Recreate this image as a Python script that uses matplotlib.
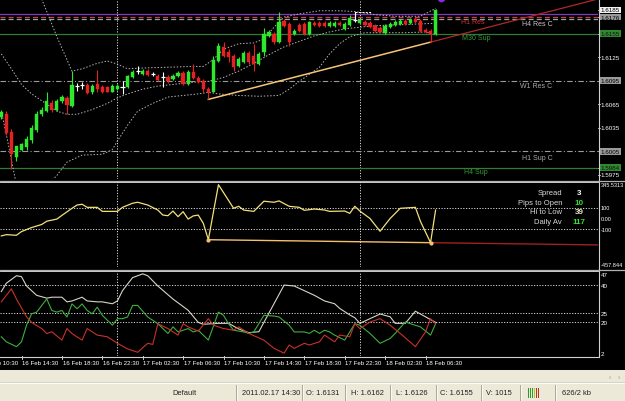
import numpy as np
import matplotlib
matplotlib.use("Agg")
import matplotlib.pyplot as plt
from matplotlib.patches import Rectangle
from matplotlib.lines import Line2D

plt.rcParams['font.family'] = ['Liberation Sans', 'DejaVu Sans']

# ---------------- data ----------------
bars = list(range(-4, 83))
opens = [1.6048, 1.6053, 1.6030, 1.5997, 1.6007, 1.6010, 1.6019, 1.6032, 1.6052, 1.6056,
         1.6067, 1.6058, 1.6069, 1.6073, 1.6062, 1.6088, 1.6089, 1.6089, 1.6080, 1.6090,
         1.6087, 1.6087, 1.6081, 1.6084, 1.6087, 1.6087, 1.6099, 1.6107, 1.6103, 1.6107,
         1.6103, 1.6101, 1.6099, 1.6099, 1.6097, 1.6101, 1.6105, 1.6090, 1.6106, 1.6098,
         1.6094, 1.6084, 1.6081, 1.6120, 1.6138, 1.6131, 1.6126, 1.6113, 1.6119, 1.6130,
         1.6126, 1.6116, 1.6131, 1.6152, 1.6154, 1.6144, 1.6171, 1.6167, 1.6154, 1.6166,
         1.6167, 1.6154, 1.6169, 1.6169, 1.6169, 1.6165, 1.6165, 1.6169, 1.6161, 1.6166,
         1.6172, 1.6169, 1.6170, 1.6169, 1.6165, 1.6162, 1.6156, 1.6163, 1.6166, 1.6167,
         1.6171, 1.6169, 1.6174, 1.6171, 1.6160, 1.6158, 1.6154]
highs = [1.6057, 1.6056, 1.6033, 1.6012, 1.6016, 1.6024, 1.6038, 1.6056, 1.6061, 1.6080,
         1.6070, 1.6071, 1.6076, 1.6075, 1.6107, 1.6092, 1.6093, 1.6092, 1.6090, 1.6108,
         1.6089, 1.6088, 1.6090, 1.6090, 1.6094, 1.6102, 1.6108, 1.6113, 1.6110, 1.6110,
         1.6106, 1.6103, 1.6106, 1.6102, 1.6103, 1.6107, 1.6107, 1.6108, 1.6116, 1.6101,
         1.6097, 1.6087, 1.6126, 1.6143, 1.6144, 1.6135, 1.6129, 1.6125, 1.6133, 1.6133,
         1.6142, 1.6131, 1.6162, 1.6160, 1.6157, 1.6183, 1.6174, 1.6170, 1.6161, 1.6169,
         1.6170, 1.6171, 1.6171, 1.6171, 1.6171, 1.6171, 1.6171, 1.6171, 1.6170, 1.6178,
         1.6183, 1.6174, 1.6172, 1.6171, 1.6167, 1.6165, 1.6167, 1.6170, 1.6172, 1.6174,
         1.6174, 1.6175, 1.6176, 1.6174, 1.6162, 1.6161, 1.6186]
lows = [1.6046, 1.6025, 1.5982, 1.5992, 1.6005, 1.6007, 1.6016, 1.6029, 1.6050, 1.6055,
        1.6055, 1.6056, 1.6066, 1.6053, 1.6061, 1.6082, 1.6084, 1.6078, 1.6078, 1.6081,
        1.6079, 1.6080, 1.6080, 1.6083, 1.6078, 1.6085, 1.6098, 1.6103, 1.6102, 1.6101,
        1.6101, 1.6094, 1.6087, 1.6092, 1.6096, 1.6099, 1.6089, 1.6089, 1.6097, 1.6092,
        1.6080, 1.6071, 1.6080, 1.6119, 1.6125, 1.6119, 1.6107, 1.6112, 1.6117, 1.6116,
        1.6107, 1.6115, 1.6126, 1.6151, 1.6142, 1.6143, 1.6163, 1.6139, 1.6153, 1.6157,
        1.6153, 1.6153, 1.6165, 1.6163, 1.6163, 1.6163, 1.6163, 1.6165, 1.6160, 1.6165,
        1.6170, 1.6167, 1.6165, 1.6162, 1.6157, 1.6156, 1.6154, 1.6162, 1.6165, 1.6166,
        1.6166, 1.6167, 1.6169, 1.6157, 1.6156, 1.6144, 1.6153]
closes = [1.6055, 1.6028, 1.6001, 1.6011, 1.6014, 1.6021, 1.6035, 1.6053, 1.6057, 1.6069,
          1.6057, 1.6069, 1.6074, 1.6064, 1.6089, 1.6088, 1.6089, 1.6079, 1.6088, 1.6084,
          1.6080, 1.6081, 1.6088, 1.6088, 1.6087, 1.6101, 1.6106, 1.6107, 1.6107, 1.6102,
          1.6103, 1.6096, 1.6099, 1.6094, 1.6101, 1.6105, 1.6090, 1.6106, 1.6098, 1.6093,
          1.6084, 1.6080, 1.6121, 1.6139, 1.6126, 1.6125, 1.6112, 1.6122, 1.6130, 1.6119,
          1.6116, 1.6129, 1.6155, 1.6157, 1.6144, 1.6170, 1.6165, 1.6144, 1.6158, 1.6158,
          1.6154, 1.6170, 1.6166, 1.6165, 1.6165, 1.6169, 1.6169, 1.6166, 1.6167, 1.6175,
          1.6172, 1.6172, 1.6166, 1.6163, 1.6158, 1.6157, 1.6165, 1.6167, 1.6170, 1.6171,
          1.6167, 1.6172, 1.6170, 1.6158, 1.6157, 1.6154, 1.6185]

bb_upper_bars = [-4, -2, 0, 2, 4, 7, 10, 12, 15, 17, 19, 21, 24, 29, 34, 36, 38, 40, 43,
                 46, 48, 50, 52, 55, 59, 63, 66, 70, 74, 79, 82]
bb_upper = [1.6204, 1.6250, 1.6257, 1.6231, 1.6199, 1.6151, 1.6107, 1.6110, 1.6117, 1.6120,
            1.6116, 1.6110, 1.6111, 1.6112, 1.6113, 1.6113, 1.6122, 1.6135, 1.6142, 1.6143,
            1.6148, 1.6163, 1.6176, 1.6180, 1.6184, 1.6184, 1.6183, 1.6179, 1.6177, 1.6177,
            1.6187]
bb_mid_bars = [-4, -2, 0, 2, 5, 7, 9, 11, 14, 17, 19, 21, 24, 27, 30, 34, 37, 40, 43, 46,
               49, 52, 55, 58, 61, 64, 67, 70, 74, 78, 82]
bb_mid = [1.6129, 1.6110, 1.6090, 1.6078, 1.6065, 1.6056, 1.6052, 1.6052, 1.6058, 1.6066,
          1.6073, 1.6078, 1.6084, 1.6088, 1.6090, 1.6093, 1.6094, 1.6099, 1.6107, 1.6117,
          1.6128, 1.6138, 1.6145, 1.6152, 1.6157, 1.6161, 1.6163, 1.6165, 1.6166, 1.6167,
          1.6168]
bb_lower_bars = [-4, -3, -2, -1, 2, 5, 7, 9, 12, 16, 18, 19, 21, 23, 26, 29, 32, 35, 37,
                 39, 43, 47, 51, 53, 55, 57, 59, 61, 63, 65, 68, 72, 76, 80, 82]
bb_lower = [1.6056, 1.6026, 1.5994, 1.5962, 1.5943, 1.5961, 1.5974, 1.5991, 1.6000, 1.6001,
            1.6007, 1.6018, 1.6038, 1.6056, 1.6066, 1.6074, 1.6076, 1.6078, 1.6080, 1.6078,
            1.6076, 1.6075, 1.6076, 1.6084, 1.6094, 1.6103, 1.6112, 1.6129, 1.6142, 1.6151,
            1.6156, 1.6156, 1.6156, 1.6157, 1.6154]

trend_bars = [37, 81]
trend_prices = [1.6071, 1.6144]

bracket_bars = [66, 69.5]
bracket_prices = [1.6183, 1.6175]

level_prices = [1.6180, 1.6176, 1.6173, 1.6155, 1.6095, 1.6005, 1.5984]
level_names = ["", "H1 Res", "H4 Res C", "M30 Sup", "W1 Res C", "H1 Sup C", "H4 Sup"]

price_axis_values = [1.6185, 1.6176, 1.6155, 1.6125, 1.6095, 1.6065, 1.6035, 1.6005, 1.5984, 1.5975]

cci_bars = [-4, -3, -1, 0, 2, 4, 5, 7, 8, 10, 11, 12, 13, 15, 16, 19, 20, 22, 23, 25, 27, 28,
            29, 30, 31, 32, 33, 34, 35, 36, 37, 39, 42, 43, 44, 46, 48, 50, 51, 53, 55, 56,
            58, 60, 61, 64, 65, 66, 67, 69, 71, 73, 75, 78, 79, 81, 82]
cci_values = [-164, -152, -158, -123, -85, -56, -25, -5, 30, 97, 128, 135, 106, 106, 68, 68,
              106, 145, 154, 128, 80, 33, 27, 71, 18, 65, -5, 25, 33, -45, -200, 320, 97, 116,
              80, 68, 164, 154, 167, 116, 106, 78, 90, 81, 68, 71, 49, 116, 71, 1, -120, 1,
              97, 106, -27, -228, 80]
cci_trend_bars = [37, 81]
cci_trend_values = [-200, -228]
cci_levels = [100, -100]
cci_axis_labels = ["345.5313", "100", "0.00", "-100", "-457.844"]
cci_axis_values = [345.5313, 100, 0, -100, -457.844]

info_labels = ["Spread", "Pips to Open", "Hi to Low", "Daily Av"]
info_values = ["3", "10", "39", "117"]

adx_bars = [-4, -3, -1, 0, 1, 3, 5, 6, 8, 9, 10, 12, 13, 15, 16, 18, 19, 20, 22, 24, 25, 27,
            30, 33, 35, 36, 39, 41, 43, 45, 47, 52, 54, 56, 58, 60, 62, 63, 65, 66, 67, 69,
            71, 73, 74, 76, 78, 80, 82]
adx_values = [36.5, 41, 45, 44.5, 39.5, 34.5, 33, 33.5, 33.5, 31, 31.5, 33.5, 31.5, 31, 31,
              30, 31.5, 37, 44, 46, 45, 39.5, 32.5, 26.5, 20, 19, 19.5, 19.5, 16.5, 14.5, 15,
              40, 39.5, 37, 34.5, 31.5, 30, 27.5, 24, 22.5, 19.5, 22, 24.5, 23, 19.5, 19.5,
              26, 23, 20]
minus_di_bars = [-4, -2, -1, 1, 2, 4, 5, 6, 8, 9, 10, 12, 13, 15, 17, 19, 21, 23, 25, 26, 27,
                 29, 31, 32, 33, 35, 37, 38, 40, 42, 43, 45, 48, 50, 52, 53, 54, 56, 57, 59,
                 60, 62, 63, 65, 66, 67, 69, 71, 73, 75, 78, 80, 81, 82]
minus_di = [31, 38, 32.5, 23, 20, 16.7, 14, 15, 10.5, 16.7, 14, 10.5, 16.7, 13.2, 12.3, 8.8,
            5.8, 4, 8.8, 8.2, 19.3, 16.7, 13.2, 19.3, 17.6, 15.3, 22, 18.5, 16.7, 15.8, 17.6,
            14.1, 10.5, 6.1, 3.5, 7.9, 6.1, 8.8, 7.9, 9.6, 13.2, 9.6, 13.2, 12.3, 19.3, 16.7,
            20.2, 22, 18.5, 14.1, 7, 14.9, 22, 19.3]
plus_di_bars = [-4, -3, -1, 0, 1, 2, 3, 5, 6, 7, 8, 9, 10, 11, 12, 13, 14, 15, 16, 18, 19,
                20, 21, 22, 23, 25, 27, 28, 29, 30, 31, 33, 34, 35, 37, 39, 40, 41, 42, 44,
                45, 46, 48, 50, 51, 53, 54, 56, 57, 58, 59, 60, 61, 62, 64, 66, 67, 69, 71,
                73, 74, 76, 77, 79, 81, 82]
plus_di = [12.3, 9.6, 7, 9.6, 18.5, 24.6, 25.5, 32.6, 26.4, 25.5, 26.4, 22.9, 29.9, 27.3,
           29.9, 26.4, 24.6, 28.2, 23.8, 18.5, 22, 22, 22.9, 29.1, 29.1, 22.9, 19.3, 16.7,
           14.1, 17.6, 14.9, 16.7, 14.9, 15.8, 10.5, 25.5, 23.8, 19.3, 15.8, 14.9, 14.1, 14.9,
           23.8, 23.4, 22.9, 18.5, 14.9, 14.9, 14.1, 15.8, 14.1, 15.8, 14.9, 13.2, 10.5, 19.3,
           18.5, 14.1, 8.8, 11.4, 14.1, 20.2, 19.3, 17.6, 13.2, 19.3]
adx_levels = [40, 25, 20]
adx_axis_values = [47, 40, 25, 20, 2]

day_separator_bars = [19, 67]
time_tick_bars = [-8, 0, 8, 16, 24, 32, 40, 48, 56, 64, 72, 80]
time_tick_labels = ["16 Feb 10:30", "16 Feb 14:30", "16 Feb 18:30", "16 Feb 22:30",
                    "17 Feb 02:30", "17 Feb 06:30", "17 Feb 10:30", "17 Feb 14:30",
                    "17 Feb 18:30", "17 Feb 22:30", "18 Feb 02:30", "18 Feb 06:30"]

status_fields = ["Default", "2011.02.17 14:30", "O: 1.6131", "H: 1.6162", "L: 1.6126",
                 "C: 1.6155", "V: 1015", "", "626/2 kb"]

# ---------------- layout helpers ----------------
W, H = 625, 402
fig = plt.figure(figsize=(W / 100, H / 100), dpi=100, facecolor="black")


def rect(x0, y0, x1, y1):
    return [x0 / W, 1 - y1 / H, (x1 - x0) / W, (y1 - y0) / H]


def fx(x):
    return x / W


def fy(y):
    return 1 - y / H


PX0, PPB = 21.5, 5.05          # pixel of bar 0, pixels per bar
XR = 598
xlim = ((0 - PX0) / PPB, (XR - PX0) / PPB)

GREEN = "#2ee82e"
RED = "#e52222"
GRID = "#d8d8d8"
AXCOL = "#c8c8c8"
FS = 4.5


def base_axes(r):
    ax = fig.add_axes(r)
    ax.set_facecolor("black")
    ax.set_xlim(*xlim)
    for s in ax.spines.values():
        s.set_visible(False)
    ax.set_xticks([])
    ax.set_yticks([])
    return ax


ax1 = base_axes(rect(0, 0, XR, 180))
ax1.set_ylim(1.59695, 1.61990)
ax2 = base_axes(rect(0, 183, XR, 268))
ax2.set_ylim(-457.844, 345.5313)
ax3 = base_axes(rect(0, 273, XR, 357))
ax3.set_ylim(2, 47)

# day separators
for ax in (ax1, ax2, ax3):
    for b in day_separator_bars:
        ax.axvline(b, color="#e0e0e0", lw=0.7, ls=(0, (1.2, 1.6)), zorder=1)

# ---------------- main panel ----------------
lvl_style = [
    dict(color="#7a3cc0", lw=0.9, ls="-"),
    dict(color="#c84040", lw=0.9, ls=(0, (4, 2.5))),
    dict(color="#a0a0a0", lw=0.9, ls=(0, (4, 2.5))),
    dict(color="#2f7d32", lw=0.9, ls="-"),
    dict(color="#9a9a9a", lw=0.8, ls=(0, (5, 2, 1, 2))),
    dict(color="#9a9a9a", lw=0.8, ls=(0, (5, 2, 1, 2))),
    dict(color="#2f7d32", lw=0.9, ls="-"),
]
for p, st in zip(level_prices, lvl_style):
    ax1.axhline(p, zorder=2, **st)

name_style = {
    "H1 Res": (473, 22, "#d03030"),
    "H4 Res C": (537, 24, "#c8c8c8"),
    "M30 Sup": (476, 39, "#3a9a3a"),
    "W1 Res C": (536, 87, "#a8a8a8"),
    "H1 Sup C": (537, 159, "#a8a8a8"),
    "H4 Sup": (476, 173, "#3a9a3a"),
}
for nm in level_names:
    if nm in name_style:
        x, y, c = name_style[nm]
        fig.text(fx(x), fy(y), nm, color=c, fontsize=5.0, ha="center", va="center")

# bollinger bands
for bx, by in ((bb_upper_bars, bb_upper), (bb_mid_bars, bb_mid), (bb_lower_bars, bb_lower)):
    ax1.plot(bx, by, color="#b4b4b4", lw=0.7, ls=(0, (1.5, 1.8)), zorder=3)

# trend line with ray extension
ax1.plot(trend_bars, trend_prices, color="#f5c477", lw=1.1, zorder=4)
slope = (trend_prices[1] - trend_prices[0]) / (trend_bars[1] - trend_bars[0])
ax1.plot([trend_bars[1], xlim[1]],
         [trend_prices[1], trend_prices[1] + slope * (xlim[1] - trend_bars[1])],
         color="#b02828", lw=0.9, zorder=4)

# small white bracket marker
ax1.plot([bracket_bars[0], bracket_bars[0]], bracket_prices, color="white", lw=0.8, zorder=7)
ax1.plot(bracket_bars, [bracket_prices[0], bracket_prices[0]], color="white", lw=0.7,
         ls=(0, (2, 1.5)), zorder=7)

# candles
for k, o, h, l, c in zip(bars, opens, highs, lows, closes):
    if c > o:
        col = GREEN
    elif c < o:
        col = RED
    else:
        col = "white"
    ax1.vlines(k, l, h, color=col, lw=0.8, zorder=5)
    if o == c:
        ax1.hlines(o, k - 0.4, k + 0.4, color="white", lw=0.9, zorder=6)
    else:
        ax1.add_patch(Rectangle((k - 0.32, min(o, c)), 0.64, abs(c - o),
                                facecolor=col, edgecolor=col, lw=0.3, zorder=6))

ax1.plot([83], [1.62005], marker="o", color="#8a2be2", ms=4.5, clip_on=True, zorder=7)

# price axis labels
box_style = {1.6185: ("#f0f0f0", "black"), 1.6176: ("#9a9a9a", "black"),
             1.6155: ("#2f8a2f", "#101010"), 1.6095: ("#9a9a9a", "black"),
             1.6005: ("#9a9a9a", "black"), 1.5984: ("#2f8a2f", "#101010")}
yt = ax1.get_yaxis_transform()
for p in price_axis_values:
    txt = f"{p:.4f}"
    if p in box_style:
        bg, fg = box_style[p]
        ax1.text(1.0045, p, txt, transform=yt, fontsize=FS, color=fg, ha="left", va="center",
                 clip_on=False, bbox=dict(boxstyle="square,pad=0.15", fc=bg, ec="none"))
    else:
        ax1.text(1.0045, p, txt, transform=yt, fontsize=FS, color="white", ha="left",
                 va="center", clip_on=False)
for p in price_axis_values:
    ax1.plot([1.0, 1.003], [p, p], transform=yt, color=AXCOL, lw=0.6, clip_on=False)

# ---------------- CCI panel ----------------
for lv in cci_levels:
    ax2.axhline(lv, color=GRID, lw=0.7, ls=(0, (1.2, 1.6)), zorder=1)
ax2.plot(cci_trend_bars, cci_trend_values, color="#f2c070", lw=1.0, zorder=3)
s2 = (cci_trend_values[1] - cci_trend_values[0]) / (cci_trend_bars[1] - cci_trend_bars[0])
ax2.plot([cci_trend_bars[1], xlim[1]],
         [cci_trend_values[1], cci_trend_values[1] + s2 * (xlim[1] - cci_trend_bars[1])],
         color="#a02020", lw=1.0, zorder=3)
ax2.plot(cci_bars, cci_values, color="#f2e07a", lw=0.9, zorder=4)
ax2.plot([cci_trend_bars[0], cci_trend_bars[1]], cci_trend_values, ls="none", marker="o",
         ms=2, color="#f2c070", zorder=5)

yt2 = ax2.get_yaxis_transform()
for lab, v in zip(cci_axis_labels, cci_axis_values):
    va = "top" if v == cci_axis_values[0] else ("bottom" if v == cci_axis_values[-1] else "center")
    ax2.text(1.0045, v, lab, transform=yt2, fontsize=4.0, color="white", ha="left",
             va=va, clip_on=False)

info_y = [194, 203.5, 213, 222.5]
val_col = ["white", "#33e033", "#e8e8c0", "#33e033"]
for lab, val, y, vc in zip(info_labels, info_values, info_y, val_col):
    fig.text(fx(562), fy(y), lab, color="#d8d8d8", fontsize=5.5, ha="right", va="center")
    fig.text(fx(579), fy(y), val, color=vc, fontsize=5.8, ha="center", va="center",
             fontweight="bold")

# ---------------- ADX panel ----------------
for lv in adx_levels:
    ax3.axhline(lv, color=GRID, lw=0.7, ls=(0, (1.2, 1.6)), zorder=1)
ax3.plot(adx_bars, adx_values, color="#d8d4c4", lw=0.8, zorder=3)
ax3.plot(plus_di_bars, plus_di, color="#3fae3f", lw=0.8, zorder=4)
ax3.plot(minus_di_bars, minus_di, color="#c83228", lw=0.8, zorder=4)
yt3 = ax3.get_yaxis_transform()
for v in adx_axis_values:
    va = "top" if v == adx_axis_values[0] else ("bottom" if v == adx_axis_values[-1] else "center")
    ax3.text(1.0045, v, str(v), transform=yt3, fontsize=FS, color="white", ha="left",
             va=va, clip_on=False)

# time axis
xt3 = ax3.get_xaxis_transform()
for b, lab in zip(time_tick_bars, time_tick_labels):
    ax3.plot([b, b], [0, -0.035], transform=xt3, color=AXCOL, lw=0.7, clip_on=False)
    ax3.text(b + 0.12, -0.045, lab, transform=xt3, fontsize=4.4, color="white",
             ha="left", va="top", clip_on=False)

# ---------------- frame lines ----------------
def hline(y, x0, x1, col, lw=1.0):
    fig.add_artist(Line2D([fx(x0), fx(x1)], [fy(y), fy(y)], color=col, lw=lw))


def vline(x, y0, y1, col, lw=1.0):
    fig.add_artist(Line2D([fx(x), fx(x)], [fy(y0), fy(y1)], color=col, lw=lw))


hline(181.5, 0, XR, "#b0b0b0", 0.9)
hline(182.5, 0, XR, "#e8e8e8", 0.6)
hline(270.5, 0, XR, "#b0b0b0", 0.9)
hline(271.5, 0, XR, "#e8e8e8", 0.6)
hline(357.5, 0, XR, "#d0d0d0", 0.8)
vline(XR + 0.5, 0, 358, "#d0d0d0", 0.8)
for yy in (181.5, 270.5):
    hline(yy, XR, W, "#b0b0b0", 0.9)

# ---------------- status bar ----------------
fig.add_artist(Rectangle((0, 0), 1, fy(371), transform=fig.transFigure,
                         facecolor="#ece9d8", edgecolor="none"))
hline(384, 0, W, "#ffffff", 0.6)
hline(383.3, 0, W, "#d0cdbf", 0.5)
fig.text(fx(610), fy(379), "‹", fontsize=5, color="#9a9a9a", ha="center", va="center")
fig.text(fx(619), fy(379), "›", fontsize=5, color="#9a9a9a", ha="center", va="center")

field_x = [172, 242, 306, 351, 396, 440, 486, 528, 562]
sep_x = [236, 302, 345, 390, 436, 481, 520, 555]
for s, x in zip(status_fields, field_x):
    if s:
        fig.text(fx(x), fy(394), s, fontsize=5.4, color="#202020", ha="left", va="center")
for x in sep_x:
    vline(x, 386, 401, "#aca899", 0.7)
    vline(x + 1, 386, 401, "#ffffff", 0.5)
icon_cols = ["#2a9a2a", "#2a9a2a", "#2a9a2a", "#c0c020", "#c03020", "#c03020"]
for i, c in enumerate(icon_cols):
    fig.add_artist(Rectangle((fx(528 + i * 2), fy(399)), 1.2 / W, 10 / H,
                             transform=fig.transFigure, facecolor=c, edgecolor="none"))

fig.savefig("out.png", dpi=100, facecolor="black")
